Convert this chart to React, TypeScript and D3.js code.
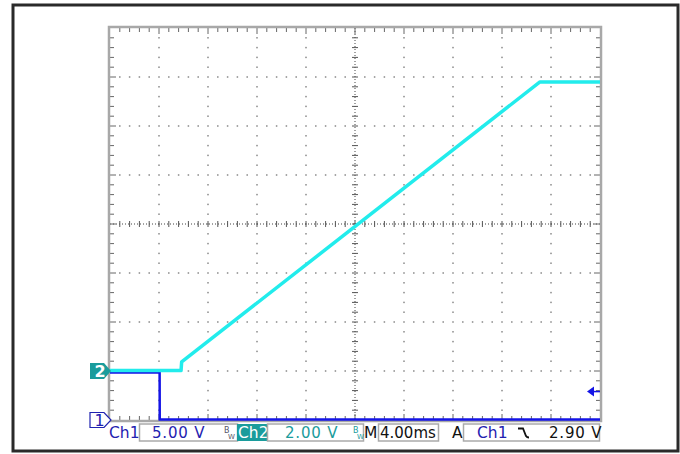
import React from "react";
import * as d3 from "d3";

const ch1Time = [0, 4.05, 4.06, 40]; // ms
const ch1Volts = [4.85, 4.85, 0.05, 0.05]; // V
const ch2Time = [0, 5.8, 5.85, 35.1, 40]; // ms
const ch2Volts = [0.02, 0.02, 0.37, 11.8, 11.8]; // V

const ch1Scale = 5.0; // V/div
const ch2Scale = 2.0; // V/div
const ch1Offset = 0; // divisions above bottom
const ch2Offset = 1;
const timeScale = 4.0; // ms/div
const triggerLevel = 2.9; // V on Ch1

const ch1Label = "Ch1";
const ch1ScaleLabel = "5.00 V";
const ch2Label = "Ch2";
const ch2ScaleLabel = "2.00 V";
const timeLabel = "M";
const timeScaleLabel = "4.00ms";
const trigModeLabel = "A";
const trigSourceLabel = "Ch1";
const trigLevelLabel = "2.90 V";

const HDIV = 10;
const VDIV = 8;

const BLUE_TEXT = "#1f22b0";
const BLUE_TRACE = "#1414e6";
const TEAL = "#1a9c9c";
const CYAN = "#22ecec";

export default function App() {
  const L = 110, R = 600, T = 28, B = 420;
  const x = d3.scaleLinear().domain([0, HDIV * timeScale]).range([L, R]);
  const yDiv = d3.scaleLinear().domain([0, VDIV]).range([B, T]);
  const xd = (d: number) => x(d * timeScale);

  const line1 = d3
    .line<number>()
    .x((_, i) => x(ch1Time[i]))
    .y((v) => yDiv(v / ch1Scale + ch1Offset));
  const line2 = d3
    .line<number>()
    .x((_, i) => x(ch2Time[i]))
    .y((v) => yDiv(v / ch2Scale + ch2Offset));

  const dots: JSX.Element[] = [];
  for (let k = 1; k < HDIV; k++) {
    if (k === HDIV / 2) continue;
    for (let m = 1; m < VDIV * 5; m++) {
      dots.push(
        <rect key={`v${k}-${m}`} x={xd(k) - 0.75} y={yDiv(m / 5) - 0.75} width={1.5} height={1.5} fill="#888" />
      );
    }
  }
  for (let j = 1; j < VDIV; j++) {
    if (j === VDIV / 2) continue;
    for (let m = 1; m < HDIV * 5; m++) {
      if (m % 5 === 0) continue;
      dots.push(
        <rect key={`h${j}-${m}`} x={xd(m / 5) - 0.75} y={yDiv(j) - 0.75} width={1.5} height={1.5} fill="#888" />
      );
    }
  }

  const ticks: JSX.Element[] = [];
  const cx = xd(HDIV / 2);
  const cy = yDiv(VDIV / 2);
  for (let m = 1; m < HDIV * 5; m++) {
    const xx = xd(m / 5);
    const len = m % 5 === 0 ? 6 : 4;
    ticks.push(<line key={`ct${m}`} x1={xx} x2={xx} y1={cy - 3} y2={cy + 3} stroke="#555" strokeWidth={1} />);
    ticks.push(<line key={`tt${m}`} x1={xx} x2={xx} y1={T} y2={T + len} stroke="#666" strokeWidth={1} />);
    ticks.push(<line key={`bt${m}`} x1={xx} x2={xx} y1={B - len} y2={B} stroke="#666" strokeWidth={1} />);
  }
  for (let m = 1; m < VDIV * 5; m++) {
    const yy = yDiv(m / 5);
    const len = m % 5 === 0 ? 6 : 4;
    ticks.push(<line key={`cv${m}`} x1={cx - 3} x2={cx + 3} y1={yy} y2={yy} stroke="#555" strokeWidth={1} />);
    ticks.push(<line key={`lt${m}`} x1={L} x2={L + len} y1={yy} y2={yy} stroke="#666" strokeWidth={1} />);
    ticks.push(<line key={`rt${m}`} x1={R - len} x2={R} y1={yy} y2={yy} stroke="#666" strokeWidth={1} />);
  }

  const m2y = yDiv(ch2Offset);
  const m1y = yDiv(ch1Offset);
  const trigY = yDiv(triggerLevel / ch1Scale + ch1Offset);

  const font = "'DejaVu Sans', Verdana, sans-serif";
  const sy = 424, sh = 17, base = 438;

  return (
    <svg width={680} height={454} style={{ position: "absolute", left: 0, top: 0, background: "#fff" }}>
      <rect x={0} y={0} width={680} height={454} fill="#fff" />
      {/* outer frame */}
      <rect x={13} y={5} width={665} height={446} fill="none" stroke="#2a2a2a" strokeWidth={3} />
      {/* graticule */}
      {dots}
      <line x1={L} x2={R} y1={cy} y2={cy} stroke="#444" strokeWidth={1} strokeDasharray="1,2" />
      <line x1={cx} x2={cx} y1={T} y2={B} stroke="#444" strokeWidth={1} strokeDasharray="1,2" />
      {ticks}
      <rect x={L - 1} y={T - 1} width={R - L + 2} height={B - T + 2} fill="none" stroke="#a8a8a8" strokeWidth={2.5} />
      {/* traces */}
      <path d={line1(ch1Volts) || ""} fill="none" stroke={BLUE_TRACE} strokeWidth={2.5} />
      <path d={line2(ch2Volts) || ""} fill="none" stroke={CYAN} strokeWidth={3.5} strokeLinejoin="round" />
      {/* channel markers */}
      <path
        d={`M ${L - 20} ${m2y - 8} H ${L - 6} L ${L + 1} ${m2y} L ${L - 6} ${m2y + 8} H ${L - 20} Z`}
        fill={TEAL}
      />
      <text x={L - 15.5} y={m2y + 6} fill="#fff" fontFamily={font} fontSize={16} fontWeight="bold">2</text>
      <path
        d={`M ${L - 20} ${m1y - 7.5} H ${L - 6} L ${L + 1} ${m1y} L ${L - 6} ${m1y + 7.5} H ${L - 20} Z`}
        fill="#fff"
        stroke={BLUE_TEXT}
        strokeWidth={1.2}
      />
      <text x={L - 15.5} y={m1y + 6} fill={BLUE_TEXT} fontFamily={font} fontSize={16}>1</text>
      {/* trigger level arrow */}
      <path d={`M ${R - 13} ${trigY} L ${R - 6} ${trigY - 5} L ${R - 6} ${trigY + 5} Z`} fill={BLUE_TRACE} />
      <line x1={R - 7} x2={R} y1={trigY} y2={trigY} stroke={BLUE_TRACE} strokeWidth={1.5} />
      {/* status bar */}
      <text x={109} y={base} fill={BLUE_TEXT} fontFamily={font} fontSize={15.5}>{ch1Label}</text>
      <rect x={139.5} y={sy} width={98} height={sh} fill="none" stroke="#aaa" strokeWidth={1.5} />
      <text x={152} y={base} fill={BLUE_TEXT} fontFamily={font} fontSize={15} letterSpacing={0.8}>{ch1ScaleLabel}</text>
      <text x={224} y={433} fill="#556" fontFamily={font} fontSize={8}>B</text>
      <text x={228} y={439} fill="#556" fontFamily={font} fontSize={7}>W</text>
      <rect x={237} y={sy} width={30} height={sh} fill={TEAL} />
      <text x={238} y={base} fill="#fff" fontFamily={font} fontSize={15.5}>{ch2Label}</text>
      <rect x={267.5} y={sy} width={96} height={sh} fill="none" stroke="#aaa" strokeWidth={1.5} />
      <text x={285} y={base} fill={TEAL} fontFamily={font} fontSize={15} letterSpacing={0.8}>{ch2ScaleLabel}</text>
      <text x={353} y={433} fill={TEAL} fontFamily={font} fontSize={8}>B</text>
      <text x={357} y={439} fill={TEAL} fontFamily={font} fontSize={7}>W</text>
      <text x={364} y={base} fill="#111" fontFamily={font} fontSize={15.5}>{timeLabel}</text>
      <rect x={378.5} y={sy} width={60} height={sh} fill="none" stroke="#aaa" strokeWidth={1.5} />
      <text x={380} y={base} fill="#111" fontFamily={font} fontSize={15}>{timeScaleLabel}</text>
      <text x={452} y={base} fill="#111" fontFamily={font} fontSize={15.5}>{trigModeLabel}</text>
      <rect x={463.5} y={sy} width={136} height={sh} fill="none" stroke="#aaa" strokeWidth={1.5} />
      <text x={477} y={base} fill={BLUE_TEXT} fontFamily={font} fontSize={15.5}>{trigSourceLabel}</text>
      <path d="M 518 428.5 H 523 L 526 436 Q 527 437.5 529 437.5" fill="none" stroke="#111" strokeWidth={1.8} />
      <text x={549} y={base} fill="#111" fontFamily={font} fontSize={15} letterSpacing={0.8}>{trigLevelLabel}</text>
    </svg>
  );
}
